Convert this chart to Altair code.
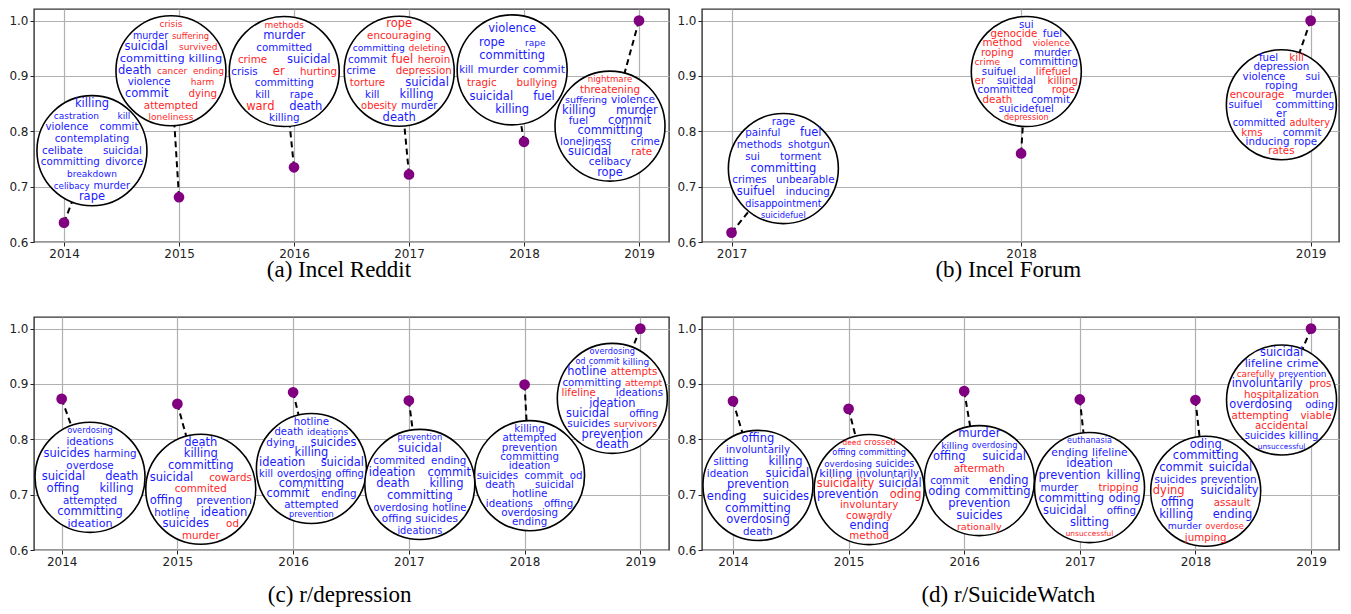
import math
import altair as alt
import pandas as pd

# ------------------------------------------------------------------ data
YEARS_REDDIT = [2014, 2015, 2016, 2017, 2018, 2019]
SIM_REDDIT = [0.635, 0.681, 0.735, 0.722, 0.781, 1.0]

YEARS_FORUM = [2017, 2018, 2019]
SIM_FORUM = [0.617, 0.760, 1.0]

YEARS_DEPRESSION = [2014, 2015, 2016, 2017, 2018, 2019]
SIM_DEPRESSION = [0.873, 0.864, 0.885, 0.870, 0.899, 1.0]

YEARS_SW = [2014, 2015, 2016, 2017, 2018, 2019]
SIM_SW = [0.869, 0.855, 0.887, 0.872, 0.871, 1.0]

# word clouds: rows separated by "/", "*" = red (new) word, "+" large, "-" small
WORDS_REDDIT = [
    "killing+ / castration- kill- / violence commit / contemplating / celibate suicidal / committing divorce / breakdown- / celibacy- murder / rape+",
    "*crisis- / murder *suffering- / suicidal+ *survived- / committing+ killing+ / death+ *cancer- *ending- / violence *harm- / commit+ *dying / *attempted / *loneliness-",
    "*methods- / murder+ / committed / *crime suicidal+ / crisis *er+ *hurting / committing / kill rape / *ward+ death+ / killing",
    "*rope+ / *encouraging / committing *deleting / commit *fuel+ *heroin / crime *depression / *torture suicidal+ / kill killing+ / *obesity murder / death+",
    "violence+ / rope+ rape- / committing+ / kill murder+ commit+ / *tragic *bullying / suicidal+ fuel+ / killing+",
    "*nightmare / *threatening / suffering violence+ / killing+ murder+ / fuel commit+ / committing+ / loneliness crime / suicidal+ *rate / celibacy / rope+",
]
WORDS_FORUM = [
    "rage / painful fuel+ / methods shotgun / sui torment / committing+ / crimes unbearable / suifuel+ inducing / disappointment / suicidefuel",
    "sui+ / *genocide fuel+ / *method *violence- / *roping+ murder / *crime- committing / suifuel *lifefuel / *er suicidal *killing / committed *rope / *death commit / suicidefuel / *depression",
    "fuel+ *kill / depression / violence sui+ / roping+ / *encourage+ murder / suifuel committing+ / er / committed *adultery / *kms commit+ / inducing rope+ / *rates",
]
WORDS_DEPRESSION = [
    "overdosing+ / ideations / suicides+ harming / overdose / suicidal+ death+ / offing+ killing+ / attempted / committing+ / ideation+",
    "death+ / killing+ / committing+ / suicidal+ *cowards / *commited / offing+ prevention / hotline ideation+ / suicides+ *od / *murder",
    "hotline / death+ ideations / dying suicides+ / killing+ / ideation+ suicidal+ / kill overdosing offing / committing+ / commit+ ending / attempted / prevention+",
    "prevention / suicidal+ / commited ending / ideation+ commit+ / death+ killing+ / committing+ / overdosing hotline / offing+ suicides+ / ideations",
    "killing+ / attempted / prevention+ / committing+ / ideation+ / suicides+ commit od / death suicidal+ / hotline / ideations offing+ / overdosing+ / ending",
    "overdosing+ / od commit killing+ / hotline+ *attempts / committing+ *attempt / *lifeline ideations / ideation+ / suicidal+ offing / suicides+ *survivors / prevention+ / death+",
]
WORDS_SW = [
    "offing+ / involuntarily / slitting killing+ / ideation suicidal+ / prevention+ / ending+ suicides+ / committing+ / overdosing+ / death",
    "*deed *crossed+ / offing+ committing+ / overdosing suicides+ / killing+ involuntarily / *suicidality+ suicidal+ / prevention+ *oding+ / *involuntary / *cowardly / ending+ / *method",
    "murder+ / killing+ overdosing / offing+ suicidal+ / *aftermath / commit ending+ / oding+ committing+ / prevention+ / suicides+ / *rationally",
    "euthanasia / ending+ lifeline+ / ideation+ / prevention+ killing+ / murder *tripping / committing+ oding+ / suicidal+ offing / slitting+ / *unsuccessful",
    "oding+ / committing+ / commit+ suicidal+ / suicides+ prevention+ / *dying+ suicidality+ / offing+ *assault / killing+ ending+ / murder+ *overdose / *jumping",
    "suicidal+ / lifeline+ crime+ / *carefully prevention / involuntarily+ *pros / *hospitalization / overdosing+ oding / *attempting *viable / *accidental / suicides+ killing+ / unsuccessful",
]

CAPTIONS = ["(a) Incel Reddit", "(b) Incel Forum", "(c) r/depression", "(d) r/SuicideWatch"]
Y_TICKS = [0.6, 0.7, 0.8, 0.9, 1.0]

# ------------------------------------------------------------------ layout
H = 233
YDOM = (0.6, 1.021)
R = 55  # bubble radius in px

PANELS = [
    dict(years=YEARS_REDDIT, sims=SIM_REDDIT, words=WORDS_REDDIT, cap=CAPTIONS[0],
         w=635, xdom=(2013.739, 2019.261), toff=0,
         bdx=[0.243, -0.07, -0.085, -0.085, -0.103, -0.252],
         by=[0.765, 0.9095, 0.908, 0.9086, 0.911, 0.8094]),
    dict(years=YEARS_FORUM, sims=SIM_FORUM, words=WORDS_FORUM, cap=CAPTIONS[1],
         w=637, xdom=(2016.898, 2019.098), toff=0,
         bdx=[0.179, 0.018, -0.101],
         by=[0.7327, 0.908, 0.848]),
    dict(years=YEARS_DEPRESSION, sims=SIM_DEPRESSION, words=WORDS_DEPRESSION, cap=CAPTIONS[2],
         w=635, xdom=(2013.761, 2019.248), toff=17,
         bdx=[0.245, 0.202, 0.158, 0.095, 0.043, -0.242],
         by=[0.7313, 0.7097, 0.7473, 0.7185, 0.7343, 0.874]),
    dict(years=YEARS_SW, sims=SIM_SW, words=WORDS_SW, cap=CAPTIONS[3],
         w=637, xdom=(2013.732, 2019.242), toff=17,
         bdx=[0.216, 0.178, 0.131, 0.084, 0.089, -0.255],
         by=[0.7167, 0.7092, 0.7254, 0.7128, 0.7061, 0.871]),
]

CW = dict(a=.613, b=.635, c=.550, d=.635, e=.615, f=.352, g=.635, h=.634, i=.278,
          j=.278, k=.579, l=.278, m=.974, n=.634, o=.612, p=.635, q=.635, r=.411,
          s=.521, t=.392, u=.634, v=.592, w=.818, x=.592, y=.592, z=.525)


def text_w(t, fs):
    return sum(CW.get(ch, 0.6) for ch in t) * fs


BLUE = "#1a1aff"
RED = "#ff1f1f"


def layout_words(spec, cx, cy, ppx, ppy):
    rows = [r.split() for r in spec.split("/")]
    n = len(rows)
    s = min(1.70 * R / (n - 1), 13.5)
    cap = s * 1.1
    out = []
    for i, row in enumerate(rows):
        yo = (i - (n - 1) / 2) * s
        words = []
        for tok in row:
            red = tok.startswith("*")
            fs = 11.5 if tok.endswith("+") else (9.0 if tok.endswith("-") else 10.3)
            words.append((tok.strip("*+-"), min(fs, cap), red))
        edge = abs(yo) + 2.5
        half = math.sqrt(max(R * R - edge * edge, 300)) - 2
        avail = 2 * half
        widths = [text_w(t, fs) for t, fs, _ in words]
        total = sum(widths)
        k = len(words)
        gap = 0 if k == 1 else max(4, min((avail - total) / (k - 1), 20))
        span = total + gap * (k - 1)
        sc = max(0.72, min(1.0, avail / span)) if span > 0 else 1.0
        pos = -span * sc / 2
        for (t, fs, red), wd in zip(words, widths):
            c = pos + wd * sc / 2
            pos += (wd + gap) * sc
            out.append(dict(x=cx + c / ppx, y=cy - yo / ppy, t=t,
                            fs=fs * sc, col=RED if red else BLUE))
    return out


def panel(p):
    ppx = p["w"] / (p["xdom"][1] - p["xdom"][0])
    ppy = H / (YDOM[1] - YDOM[0])
    pts = pd.DataFrame(dict(year=p["years"], sim=p["sims"],
                            cx=[y + d for y, d in zip(p["years"], p["bdx"])],
                            cy=p["by"]))
    wrows = []
    for i in range(len(p["years"])):
        wrows += layout_words(p["words"][i], pts.cx[i], pts.cy[i], ppx, ppy)
    wdf = pd.DataFrame(wrows)

    xs = alt.Scale(domain=list(p["xdom"]), nice=False, zero=False)
    ys = alt.Scale(domain=list(YDOM), nice=False, zero=False)
    xa = alt.Axis(values=p["years"], format="d", title=None)
    ya = alt.Axis(values=Y_TICKS, format=".1f", title=None)

    rule = alt.Chart(pts).mark_rule(color="black", strokeWidth=2, strokeDash=[6, 4]).encode(
        x=alt.X("year:Q", scale=xs, axis=xa), y=alt.Y("sim:Q", scale=ys, axis=ya),
        x2="cx:Q", y2="cy:Q")
    bub = alt.Chart(pts).mark_point(shape="circle", filled=True, fill="white", stroke="black",
                                    strokeWidth=1.6, opacity=1, fillOpacity=1,
                                    size=(2 * R) ** 2).encode(
        x=alt.X("cx:Q", scale=xs, axis=xa), y=alt.Y("cy:Q", scale=ys, axis=ya))
    txt = alt.Chart(wdf).mark_text(font="DejaVu Sans", align="center", baseline="middle").encode(
        x=alt.X("x:Q", scale=xs, axis=xa), y=alt.Y("y:Q", scale=ys, axis=ya),
        text="t:N", color=alt.Color("col:N", scale=None), size=alt.Size("fs:Q", scale=None))
    dots = alt.Chart(pts).mark_circle(size=115, color="#800080", opacity=1).encode(
        x=alt.X("year:Q", scale=xs, axis=xa), y=alt.Y("sim:Q", scale=ys, axis=ya))
    return alt.layer(rule, bub, txt, dots).properties(
        width=p["w"], height=H,
        title=alt.TitleParams(text=p["cap"], orient="bottom", font="Liberation Serif",
                              fontSize=23, fontWeight="normal", color="black",
                              offset=p["toff"], anchor="middle", frame="bounds"))


charts = [panel(p) for p in PANELS]
chart = alt.concat(*charts, columns=2, spacing={"row": 75, "column": 33},
                   bounds="flush", padding=0).configure_view(
    stroke="#333", strokeWidth=1.4
).configure_axis(
    grid=True, gridColor="#b0b0b0", gridWidth=1.2, domain=False,
    tickColor="#222", tickSize=4, labelFont="DejaVu Sans", labelFontSize=12,
    labelColor="#222", labelPadding=2
)

chart.save("out.html", embed_options={"renderer": "svg", "actions": False})
